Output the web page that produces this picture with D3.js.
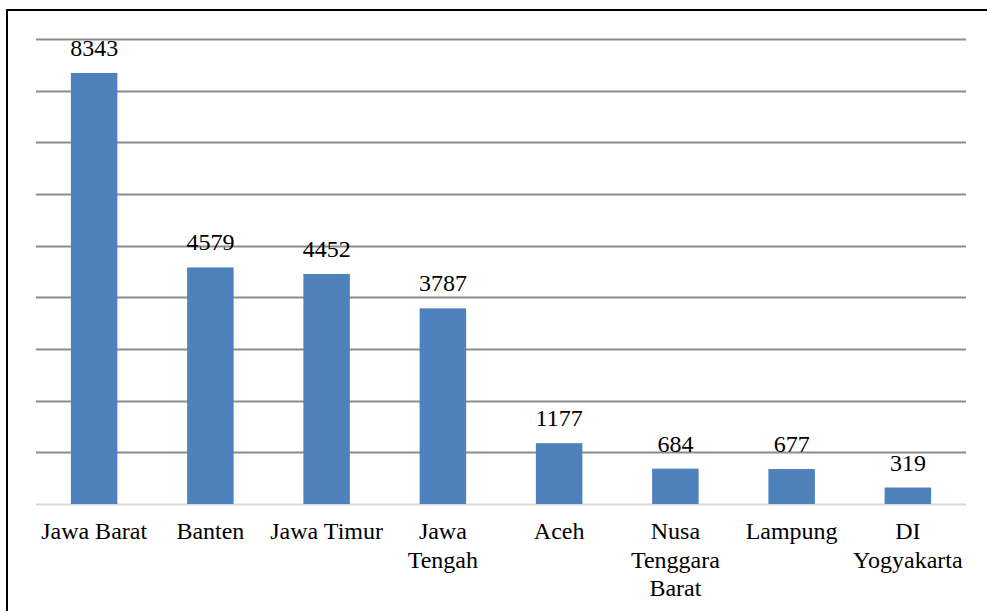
<!DOCTYPE html>
<html><head><meta charset="utf-8">
<script src="https://cdn.jsdelivr.net/npm/d3@7"></script>
<style>html,body{margin:0;padding:0;background:#fff;overflow:hidden}</style>
</head><body>
<svg id="chart" width="987" height="611"></svg>
<script>
const categories = ["Jawa Barat", "Banten", "Jawa Timur", "Jawa\nTengah", "Aceh", "Nusa\nTenggara\nBarat", "Lampung", "DI\nYogyakarta"];
const values = [8343, 4579, 4452, 3787, 1177, 684, 677, 319];
const yTicks = [0, 1000, 2000, 3000, 4000, 5000, 6000, 7000, 8000, 9000];

const FONT = "'Liberation Serif', 'Times New Roman', Tinos, serif";
const svg = d3.select("#chart");
const margin = {left: 36, right: 21, top: 39, bottom: 107};
const W = 987, H = 611;
const x = d3.scaleBand().domain(categories).range([margin.left, W - margin.right]).paddingInner(0.6).paddingOuter(0.3);
const y = d3.scaleLinear().domain([0, 9000]).range([H - margin.bottom, margin.top]);

// outer border
svg.append("rect").attr("x", 7).attr("y", 10).attr("width", 1000).attr("height", 700)
  .attr("fill", "none").attr("stroke", "#000").attr("stroke-width", 2);

// gridlines
svg.append("g").selectAll("line").data(yTicks).join("line")
  .attr("x1", margin.left).attr("x2", W - margin.right)
  .attr("y1", d => Math.round(y(d)) + 0.5).attr("y2", d => Math.round(y(d)) + 0.5)
  .attr("stroke", d => d === 0 ? "#d9d9d9" : "#8c8c8c").attr("stroke-width", 2);

// bars
svg.append("g").selectAll("rect").data(values).join("rect")
  .attr("x", (d, i) => x(categories[i])).attr("width", x.bandwidth())
  .attr("y", d => y(d)).attr("height", d => y(0) - y(d))
  .attr("fill", "#4F81BD");

// value labels
svg.append("g").selectAll("text").data(values).join("text")
  .attr("x", (d, i) => x(categories[i]) + x.bandwidth() / 2)
  .attr("y", d => y(d) - 17)
  .attr("text-anchor", "middle")
  .style("font-family", FONT).style("font-size", "24px").attr("fill", "#000")
  .text(d => d);

// category labels
const cat = svg.append("g").selectAll("text").data(categories).join("text")
  .attr("x", d => x(d) + x.bandwidth() / 2)
  .attr("y", 539)
  .attr("text-anchor", "middle")
  .style("font-family", FONT).style("font-size", "24px").attr("fill", "#000");
cat.each(function(d) {
  const t = d3.select(this);
  d.split("\n").forEach((line, k) => {
    t.append("tspan").attr("x", x(d) + x.bandwidth() / 2).attr("dy", k === 0 ? 0 : 28.5).text(line);
  });
});
</script>
</body></html>
